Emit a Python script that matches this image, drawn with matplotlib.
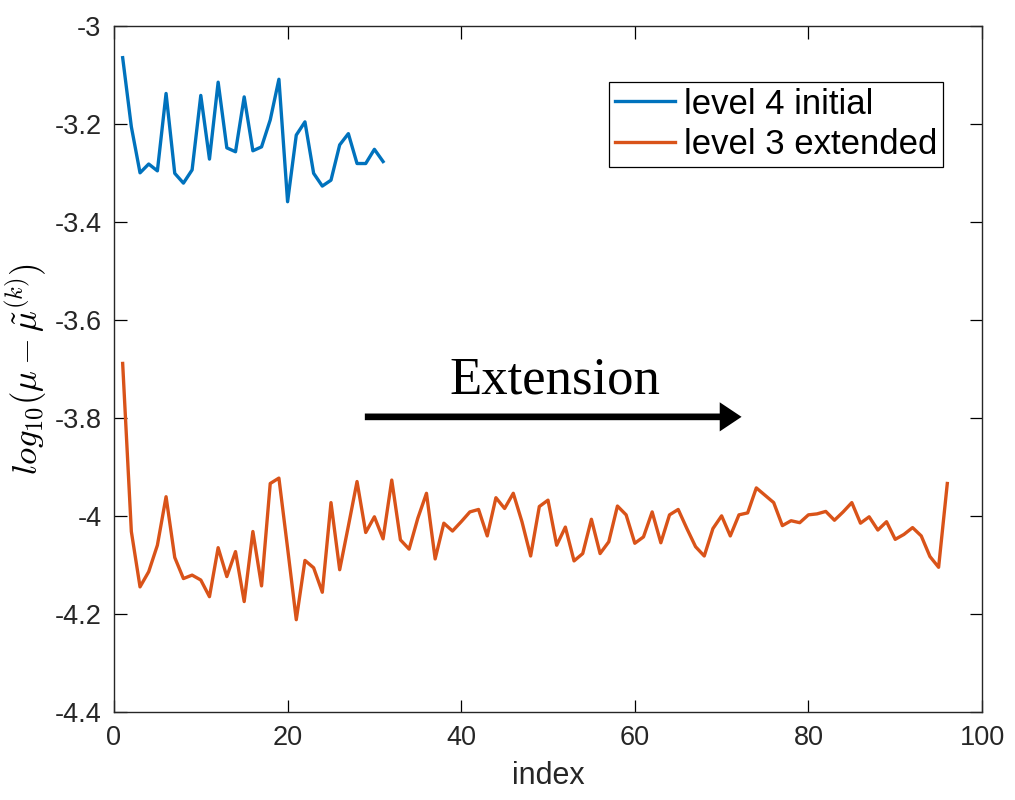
import numpy as np
import matplotlib
matplotlib.use("Agg")
import matplotlib.pyplot as plt

# values
initial_vals = [-3.064, -3.205, -3.299, -3.281, -3.295, -3.137, -3.300, -3.320,
                -3.293, -3.141, -3.271, -3.114, -3.248, -3.256, -3.144, -3.254,
                -3.246, -3.191, -3.108, -3.358, -3.222, -3.195, -3.300, -3.326,
                -3.314, -3.242, -3.219, -3.280, -3.280, -3.251, -3.276]

extended_vals = [-3.688, -4.031, -4.144, -4.113, -4.059, -3.960, -4.084, -4.127,
                 -4.120, -4.130, -4.164, -4.064, -4.123, -4.072, -4.174, -4.031,
                 -4.142, -3.933, -3.922, -4.065, -4.211, -4.090, -4.105, -4.155,
                 -3.972, -4.109, -4.020, -3.929, -4.033, -4.001, -4.046, -3.926,
                 -4.048, -4.067, -4.004, -3.953, -4.087, -4.014, -4.030, -4.011,
                 -3.991, -3.986, -4.040, -3.962, -3.984, -3.953, -4.011, -4.081,
                 -3.980, -3.967, -4.059, -4.022, -4.091, -4.076, -4.006, -4.076,
                 -4.052, -3.979, -3.997, -4.055, -4.042, -3.991, -4.054, -3.997,
                 -3.986, -4.025, -4.062, -4.081, -4.025, -3.999, -4.040, -3.997,
                 -3.993, -3.942, -3.957, -3.972, -4.019, -4.009, -4.013, -3.997,
                 -3.995, -3.990, -4.008, -3.991, -3.972, -4.014, -4.001, -4.028,
                 -4.011, -4.047, -4.037, -4.023, -4.040, -4.082, -4.104, -3.933]

series_labels = ["level 4 initial", "level 3 extended"]
x_ticks = [0, 20, 40, 60, 80, 100]
y_ticks = [-3.0, -3.2, -3.4, -3.6, -3.8, -4.0, -4.2, -4.4]
y_ticklabels = ["-3", "-3.2", "-3.4", "-3.6", "-3.8", "-4", "-4.2", "-4.4"]
arrow_from, arrow_to, arrow_y = 28.9, 72.3, -3.797

plt.rcParams['font.family'] = ['Liberation Sans', 'DejaVu Sans']
plt.rcParams['mathtext.fontset'] = 'cm'
plt.rcParams['axes.unicode_minus'] = False

fig = plt.figure(figsize=(10.15, 8), dpi=100)
ax = fig.add_axes([0.1123, 0.1096, 0.8552, 0.8575])

x1 = np.arange(1, len(initial_vals) + 1)
x2 = np.arange(1, len(extended_vals) + 1)
ax.plot(x1, initial_vals, color='#0072BD', lw=2.4, label=series_labels[0])
ax.plot(x2, extended_vals, color='#D95319', lw=2.4, label=series_labels[1])

ax.set_xlim(0, 100)
ax.set_ylim(-4.4, -3.0)
ax.set_xticks(x_ticks)
ax.set_xticklabels([str(t) for t in x_ticks])
ax.set_yticks(y_ticks)
ax.set_yticklabels(y_ticklabels)
ax.tick_params(direction='in', length=9, width=0.9, top=True, right=True,
               labelsize=19.5, labelcolor='#262626', pad=9)
for s in ax.spines.values():
    s.set_linewidth(1.0)
    s.set_color('#262626')

ax.set_xlabel('index', fontsize=22, color='#262626', labelpad=7)
ax.set_ylabel(r'$log_{10}(\mu-\tilde{\mu}^{(k)})$', fontsize=25, labelpad=4)

# annotation arrow + text
ax.annotate('', xy=(arrow_to, arrow_y), xytext=(arrow_from, arrow_y),
            arrowprops=dict(arrowstyle='-|>,head_length=0.45,head_width=0.3',
                            lw=4.8, color='black', mutation_scale=20,
                            shrinkA=0, shrinkB=0, capstyle='butt',
                            joinstyle='miter'))
ax.text(50.75, -3.75, 'Extension', family='Liberation Serif', fontsize=38,
        ha='center', va='baseline')

leg = ax.legend(loc='upper right', bbox_to_anchor=(0.955, 0.9188),
                borderaxespad=0, fontsize=25, handlelength=1.75,
                handletextpad=0.25, labelspacing=0.22, borderpad=0.16,
                fancybox=False, framealpha=1)
leg.get_frame().set_edgecolor('black')
leg.get_frame().set_linewidth(0.9)

fig.savefig('out.png', dpi=100)
